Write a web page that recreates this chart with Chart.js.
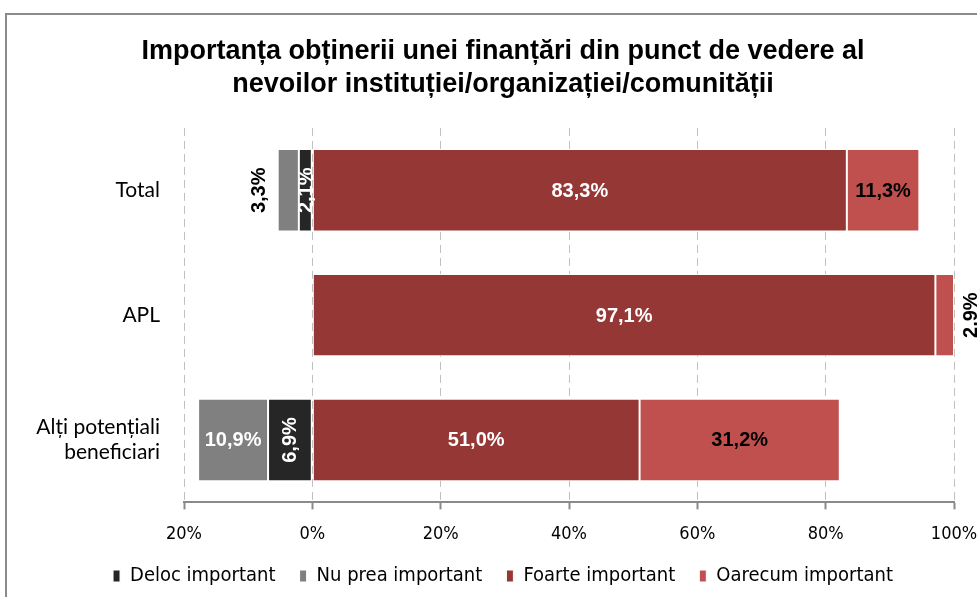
<!DOCTYPE html>
<html>
<head>
<meta charset="utf-8">
<script src="https://cdn.jsdelivr.net/npm/chart.js@4.4.0/dist/chart.umd.min.js"></script>
<style>
  html, body { margin: 0; padding: 0; background: #fff; overflow: hidden; }
  #frame { position: absolute; left: 5px; top: 13px; width: 1100px; height: 700px; border: 2px solid #8a8a8a; }
  #wrap { position: absolute; left: 0; top: 0; width: 1006px; height: 597px; }
</style>
</head>
<body>
<div id="frame"></div>
<div id="wrap"><canvas id="grafico" width="1006" height="597"></canvas></div>
<script>
// date
const categorii = ['Total', 'APL', ['Alți potențiali', 'beneficiari']];
const delocImportant = [2.1, 0, 6.9];
const nuPreaImportant = [3.3, 0, 10.9];
const foarteImportant = [83.3, 97.1, 51.0];
const oarecumImportant = [11.3, 2.9, 31.2];
const tickuriX = [-20, 0, 20, 40, 60, 80, 100];

const fmt = v => v.toFixed(1).replace('.', ',') + '%';

// etichete pe bare (fara plugin extern)
const eticheteBare = {
  id: 'eticheteBare',
  afterDatasetsDraw(chart) {
    const ctx = chart.ctx;
    ctx.save();
    ctx.font = 'bold 20px "Liberation Sans", Arial, sans-serif';
    ctx.textAlign = 'center';
    ctx.textBaseline = 'middle';
    chart.data.datasets.forEach((ds, di) => {
      const meta = chart.getDatasetMeta(di);
      meta.data.forEach((bar, i) => {
        const val = ds.valoriReale[i];
        if (!val) return;
        const left = Math.min(bar.x, bar.base);
        const right = Math.max(bar.x, bar.base);
        const w = right - left;
        const exterior = (di === 1 || di === 3) && w < 25;
        let x = (left + right) / 2;
        let color = ds.culoareEticheta;
        if (exterior) {
          x = di === 1 ? left - 19 : right + 16;
          color = '#000';
        }
        ctx.fillStyle = color;
        ctx.save();
        ctx.translate(x, bar.y);
        if (w < 50) ctx.rotate(-Math.PI / 2);
        ctx.fillText(fmt(val), 0, 1);
        ctx.restore();
      });
    });
    ctx.restore();
  }
};

const ctxBare = document.getElementById('grafico').getContext('2d');
const grafic = new Chart(ctxBare, {
  type: 'bar',
  data: {
    labels: categorii,
    datasets: [
      {
        label: 'Deloc important',
        data: delocImportant.map(v => -v),
        valoriReale: delocImportant,
        backgroundColor: '#262626',
        culoareEticheta: '#fff'
      },
      {
        label: 'Nu prea important',
        data: nuPreaImportant.map(v => -v),
        valoriReale: nuPreaImportant,
        backgroundColor: '#808080',
        culoareEticheta: '#fff'
      },
      {
        label: 'Foarte important',
        data: foarteImportant,
        valoriReale: foarteImportant,
        backgroundColor: '#953735',
        culoareEticheta: '#fff'
      },
      {
        label: 'Oarecum important',
        data: oarecumImportant,
        valoriReale: oarecumImportant,
        backgroundColor: '#C0504D',
        culoareEticheta: '#000'
      }
    ]
  },
  options: {
    indexAxis: 'y',
    responsive: false,
    animation: false,
    datasets: {
      bar: {
        borderColor: '#fff',
        borderWidth: 1,
        borderSkipped: false,
        categoryPercentage: 0.66,
        barPercentage: 1
      }
    },
    layout: { padding: { left: 0, right: 0, top: 0, bottom: 1 } },
    scales: {
      x: {
        stacked: true,
        min: -20,
        max: 100,
        afterBuildTicks: axis => { axis.ticks = tickuriX.map(v => ({ value: v })); },
        afterFit: scale => { scale.paddingRight = 52; },
        ticks: {
          callback: v => Math.abs(v) + '%',
          color: '#000',
          padding: 14,
          font: { family: '"Liberation Sans Narrow", "DejaVu Sans Condensed", sans-serif', size: 18 }
        },
        grid: {
          color: '#c0c0c0',
          lineWidth: 1,
          tickLength: 7,
          tickColor: '#8a8a8a',
          tickWidth: 2,
          tickBorderDash: []
        },
        border: { display: true, color: '#8a8a8a', width: 2, dash: [8, 5] }
      },
      y: {
        stacked: true,
        afterFit: scale => { scale.width = 184; },
        grid: { display: false, drawTicks: false },
        border: { display: false },
        ticks: {
          color: '#000',
          padding: 24,
          font: { family: 'Lato, "Open Sans", sans-serif', size: 21 }
        }
      }
    },
    plugins: {
      title: {
        display: true,
        text: ['Importanța obținerii unei finanțări din punct de vedere al', 'nevoilor instituției/organizației/comunității'],
        color: '#000',
        font: { family: '"Liberation Sans", Arial, sans-serif', size: 27, weight: 'bold', lineHeight: 1.22 },
        padding: { top: 35, bottom: 27 }
      },
      legend: {
        position: 'bottom',
        labels: {
          color: '#000',
          boxWidth: 7,
          boxHeight: 12,
          padding: 7,
          font: { family: '"Liberation Sans Narrow", "DejaVu Sans Condensed", sans-serif', size: 20 },
          generateLabels: chart => {
            const items = Chart.defaults.plugins.legend.labels.generateLabels(chart);
            // spatiu intre elementele legendei
            items.forEach((it, i) => { if (i < items.length - 1) it.text += '   '; });
            return items;
          }
        }
      },
      tooltip: { enabled: false }
    }
  },
  plugins: [eticheteBare]
});
</script>
</body>
</html>
